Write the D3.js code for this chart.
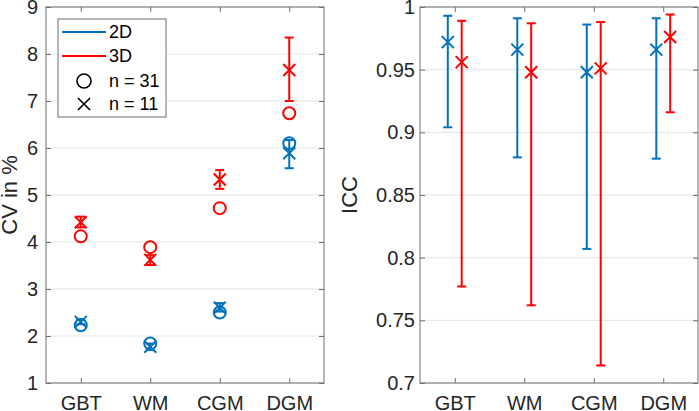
<!DOCTYPE html>
<html><head><meta charset="utf-8">
<script src="https://cdn.jsdelivr.net/npm/d3@7"></script>
<style>html,body{margin:0;padding:0;background:#fff;}svg{display:block;font-family:"Liberation Sans",Arial,sans-serif;}</style>
</head><body>
<svg id="c" width="699" height="411"></svg>
<script>
const categories = ['GBT','WM','CGM','DGM'];
// CV in % (left panel)
const cv2D_n31 = [2.23, 1.84, 2.50, 6.10];
const cv3D_n31 = [4.12, 3.89, 4.72, 6.74];
const cv2D_n11 = [2.30, 1.77, 2.60, 5.89];
const cv2D_n11_lo = [2.25, 1.70, 2.52, 5.57];
const cv2D_n11_hi = [2.36, 1.84, 2.70, 6.17];
const cv3D_n11 = [4.42, 3.62, 5.33, 7.66];
const cv3D_n11_lo = [4.31, 3.51, 5.13, 7.00];
const cv3D_n11_hi = [4.54, 3.72, 5.53, 8.35];
// ICC (right panel)
const icc2D = [0.972, 0.966, 0.948, 0.966];
const icc2D_lo = [0.904, 0.880, 0.807, 0.879];
const icc2D_hi = [0.993, 0.991, 0.986, 0.991];
const icc3D = [0.956, 0.948, 0.951, 0.976];
const icc3D_lo = [0.777, 0.762, 0.714, 0.916];
const icc3D_hi = [0.989, 0.987, 0.988, 0.994];
const cvTicks = [1,2,3,4,5,6,7,8,9];
const iccTicks = [0.7,0.75,0.8,0.85,0.9,0.95,1];

const BLUE = '#0072BD', RED = '#FF0000', AX = '#6f6f6f', GRID = '#e3e3e3';
const svg = d3.select('#c');

function panel(x0, x1, y0, y1, yDomain, yTicks, yFmt, ylabel, ylabelX, yPad) {
  const g = svg.append('g');
  const x = d3.scaleLinear().domain([0.5, 4.5]).range([x0, x1]);
  const y = d3.scaleLinear().domain(yDomain).range([y1, y0]);
  g.selectAll('line.grid').data(yTicks).join('line')
    .attr('x1', x0).attr('x2', x1).attr('y1', d => y(d)).attr('y2', d => y(d))
    .attr('stroke', GRID).attr('stroke-width', 1);
  g.append('rect').attr('x', x0).attr('y', y0).attr('width', x1 - x0).attr('height', y1 - y0)
    .attr('fill', 'none').attr('stroke', AX).attr('stroke-width', 1);
  const tl = 5;
  const gl = g.append('g').attr('transform', `translate(${x0},0)`)
    .call(d3.axisLeft(y).tickValues(yTicks).tickSize(-tl).tickPadding(yPad).tickFormat(yFmt));
  const gr = g.append('g').attr('transform', `translate(${x1},0)`)
    .call(d3.axisRight(y).tickValues(yTicks).tickSize(-tl).tickFormat(''));
  const gb = g.append('g').attr('transform', `translate(0,${y1})`)
    .call(d3.axisBottom(x).tickValues([1,2,3,4]).tickSize(-tl).tickPadding(13).tickFormat(d => categories[d-1]));
  const gt = g.append('g').attr('transform', `translate(0,${y0})`)
    .call(d3.axisTop(x).tickValues([1,2,3,4]).tickSize(-tl).tickFormat(''));
  [gl, gr, gb, gt].forEach(a => {
    a.select('.domain').remove();
    a.selectAll('line').attr('stroke', AX);
    a.selectAll('text').attr('fill', '#262626').style('font-size', '20px')
      .style('font-family', '"Liberation Sans",Arial,sans-serif');
  });
  g.append('text').attr('transform', `translate(${ylabelX},${(y0 + y1) / 2}) rotate(-90)`)
    .attr('text-anchor', 'middle').attr('fill', '#262626').style('font-size', '22px').text(ylabel);
  return {g, x, y};
}

function errbar(g, cx, ylo, yhi, color) {
  const cw = 4.5;
  g.append('line').attr('x1', cx).attr('x2', cx).attr('y1', ylo).attr('y2', yhi).attr('stroke', color).attr('stroke-width', 2);
  [ylo, yhi].forEach(yy => g.append('line').attr('x1', cx - cw).attr('x2', cx + cw).attr('y1', yy).attr('y2', yy)
    .attr('stroke', color).attr('stroke-width', 2));
}
function xmark(g, cx, cy, color, h, w) {
  g.append('path').attr('d', `M${cx-h},${cy-h}L${cx+h},${cy+h}M${cx-h},${cy+h}L${cx+h},${cy-h}`)
    .attr('stroke', color).attr('stroke-width', w).attr('fill', 'none');
}
function omark(g, cx, cy, color, r, w) {
  g.append('circle').attr('cx', cx).attr('cy', cy).attr('r', r).attr('fill', 'none').attr('stroke', color).attr('stroke-width', w);
}

// Left panel
const L = panel(46, 324, 7, 383, [1, 9], cvTicks, d3.format('d'), 'CV in %', 17, 8);
categories.forEach((c, i) => {
  const cx = L.x(i + 1);
  errbar(L.g, cx, L.y(cv2D_n11_lo[i]), L.y(cv2D_n11_hi[i]), BLUE);
  errbar(L.g, cx, L.y(cv3D_n11_lo[i]), L.y(cv3D_n11_hi[i]), RED);
  omark(L.g, cx, L.y(cv2D_n31[i]), BLUE, 6, 2);
  omark(L.g, cx, L.y(cv3D_n31[i]), RED, 6, 2);
  xmark(L.g, cx, L.y(cv2D_n11[i]), BLUE, 6, 2);
  xmark(L.g, cx, L.y(cv3D_n11[i]), RED, 6, 2);
});
// Legend
const lg = L.g.append('g');
lg.append('rect').attr('x', 58).attr('y', 19).attr('width', 108).attr('height', 98)
  .attr('fill', '#fff').attr('stroke', AX).attr('stroke-width', 1);
const legItems = [
  {label: '2D', type: 'line', color: BLUE, y: 32},
  {label: '3D', type: 'line', color: RED, y: 56},
  {label: 'n = 31', type: 'o', color: '#000', y: 81},
  {label: 'n = 11', type: 'x', color: '#000', y: 104}
];
legItems.forEach(it => {
  if (it.type === 'line') lg.append('line').attr('x1', 62).attr('x2', 106).attr('y1', it.y).attr('y2', it.y)
    .attr('stroke', it.color).attr('stroke-width', 2);
  else if (it.type === 'o') omark(lg, 84, it.y, it.color, 7, 1.6);
  else xmark(lg, 84, it.y, it.color, 6, 1.6);
  lg.append('text').attr('x', 109).attr('y', it.y).attr('dy', '0.35em').attr('fill', '#000')
    .style('font-size', '18px').text(it.label);
});

// Right panel
const R = panel(420, 698, 7, 383, [0.7, 1], iccTicks, d => (d === 1 ? '1' : String(+d.toFixed(2))), 'ICC', 357, 5);
categories.forEach((c, i) => {
  const xb = R.x(i + 1 - 0.1), xr = R.x(i + 1 + 0.1);
  errbar(R.g, xb, R.y(icc2D_lo[i]), R.y(icc2D_hi[i]), BLUE);
  errbar(R.g, xr, R.y(icc3D_lo[i]), R.y(icc3D_hi[i]), RED);
  xmark(R.g, xb, R.y(icc2D[i]), BLUE, 6, 2);
  xmark(R.g, xr, R.y(icc3D[i]), RED, 6, 2);
});
</script>
</body></html>
